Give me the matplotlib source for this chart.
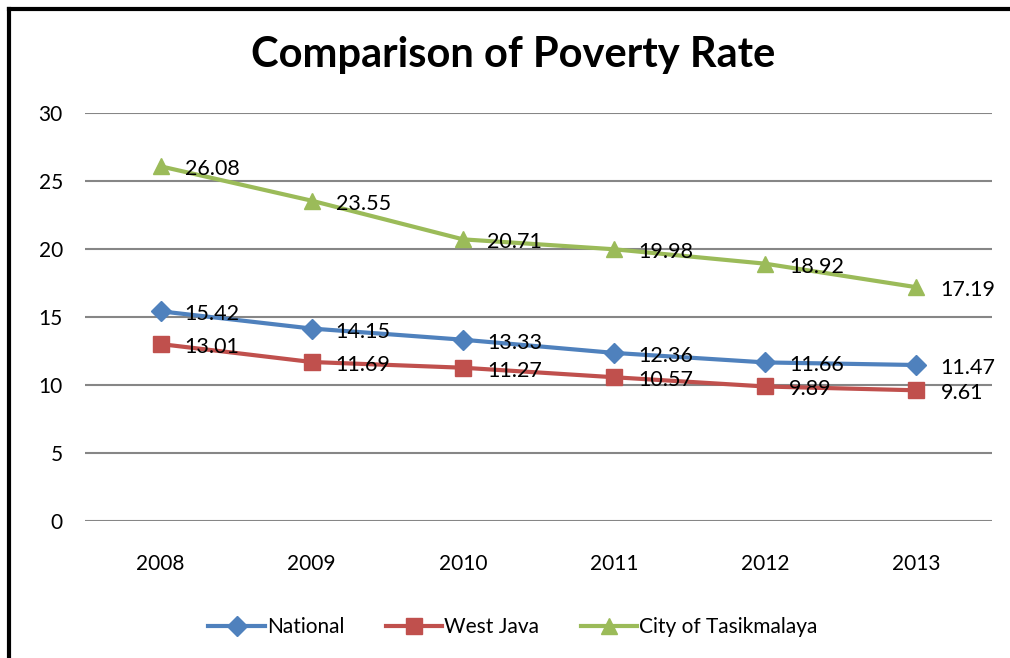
import matplotlib.pyplot as plt
from matplotlib.lines import Line2D

plt.rcParams['font.family'] = ['Lato', 'DejaVu Sans']

years = ['2008', '2009', '2010', '2011', '2012', '2013']
national = [15.42, 14.15, 13.33, 12.36, 11.66, 11.47]
west_java = [13.01, 11.69, 11.27, 10.57, 9.89, 9.61]
tasikmalaya = [26.08, 23.55, 20.71, 19.98, 18.92, 17.19]

series = [
    ('National', national, '#4F81BD', 'D', 10),
    ('West Java', west_java, '#C0504D', 's', 11),
    ('City of Tasikmalaya', tasikmalaya, '#9BBB59', '^', 12),
]

fig = plt.figure(figsize=(10.1, 6.58), dpi=100)
ax = fig.add_axes([85 / 1010, 1 - 521 / 658, (992 - 85) / 1010, (521 - 113) / 658])

x = list(range(len(years)))
for name, vals, color, marker, ms in series:
    ax.plot(x, vals, color=color, lw=3, marker=marker, ms=ms, label=name, zorder=3)
    for xi, v in zip(x, vals):
        ax.annotate(f'{v:.2f}', (xi, v), xytext=(24, -3), textcoords='offset pixels',
                    ha='left', va='center', fontsize=15.5, color='black', zorder=4)

ax.set_xlim(-0.5, len(years) - 0.5)
ax.set_ylim(0, 30)
ax.set_yticks(range(0, 31, 5))
ax.set_xticks(x)
ax.set_xticklabels(years)
ax.yaxis.grid(True, color='#868686', lw=1.5)
ax.set_axisbelow(True)
for s in ax.spines.values():
    s.set_visible(False)
ax.tick_params(axis='both', length=0, labelsize=15)
ax.tick_params(axis='y', pad=16)
ax.tick_params(axis='x', pad=24)

fig.text(0.508, 1 - 55 / 658, 'Comparison of Poverty Rate', ha='center', va='center',
         fontsize=30, fontweight='bold')

fig.legend(loc='center', bbox_to_anchor=(0.508, 1 - 627 / 658), ncol=3, frameon=False,
           fontsize=15, handlelength=2.7, handletextpad=0.1, columnspacing=2.0,
           markerscale=1.0)

# frame of the chart area (right and bottom are cut off in the source)
fig.add_artist(Line2D([9 / 1010, 9 / 1010], [0, 1 - 9 / 658], color='black', lw=3,
                      transform=fig.transFigure))
fig.add_artist(Line2D([9 / 1010, 1], [1 - 9 / 658, 1 - 9 / 658], color='black', lw=3,
                      transform=fig.transFigure))

fig.savefig('out.png', dpi=100)
